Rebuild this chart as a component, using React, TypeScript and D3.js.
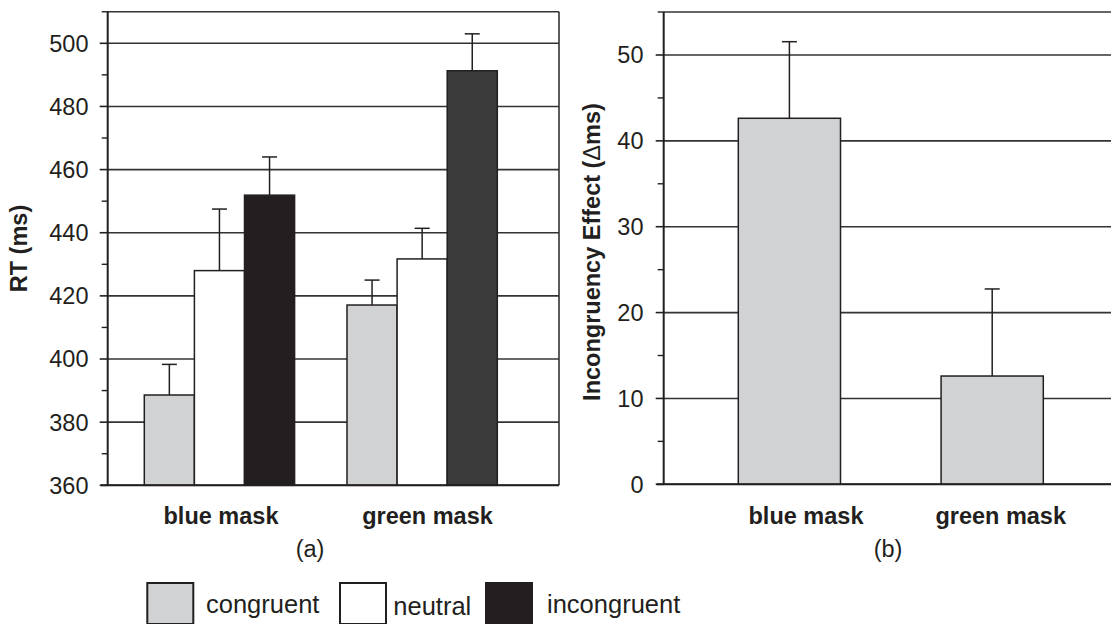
import React from "react";
import * as d3 from "d3";

// Panel (a): mean RT per mask and condition, with upper error bars
const groups = ["blue mask", "green mask"];
const conditions = ["congruent", "neutral", "incongruent"];
const rtMeans = [
  [388.6, 428.0, 451.9],
  [417.1, 431.7, 491.3],
];
const rtErrTops = [
  [398.3, 447.5, 464.0],
  [425.0, 441.4, 503.0],
];
const rtTicks = [360, 380, 400, 420, 440, 460, 480, 500];
const rtMinorTicks = [370, 390, 410, 430, 450, 470, 490];

// Panel (b): incongruency effect per mask
const effectValues = [42.63, 12.61];
const effectErrTops = [51.55, 22.75];
const effectTicks = [0, 10, 20, 30, 40, 50];
const effectMinorTicks = [5, 15, 25, 35, 45];

const fillFor = (gi: number, ci: number) => {
  if (ci === 0) return "#d1d2d4";
  if (ci === 1) return "#ffffff";
  return gi === 0 ? "#231f20" : "#3b3b3b";
};

const INK = "#231f20";
const FONT = "'Liberation Sans', Arial, Helvetica, sans-serif";

export default function App() {
  // ---- panel (a) scales
  const yA = d3.scaleLinear().domain([360, 500]).range([485.3, 43.3]);
  const xA = d3.scaleBand<string>().domain(groups).range([144.3, 497.3]).paddingInner(0.2585).paddingOuter(0);
  const xAInner = d3.scaleBand<string>().domain(conditions).range([0, xA.bandwidth()]).padding(0);
  const labelA = d3.scalePoint<string>().domain(groups).range([221, 427.5]);
  const axAx = 107.7;
  const axARight = 559;
  const topA = yA(510);

  // ---- panel (b) scales
  const yB = d3.scaleLinear().domain([0, 50]).range([484.3, 55]);
  const xB = d3.scaleBand<string>().domain(groups).range([738.3, 1043.3]).paddingInner(0.496).paddingOuter(0);
  const labelB = d3.scalePoint<string>().domain(groups).range([806, 1000.7]);
  const axBx = 663.7;
  const axBRight = 1111;
  const topB = yB(55);

  const cap = 7.5;
  const tickLen = 7;

  return (
    <svg width={1111} height={624} style={{ display: "block", position: "absolute", left: 0, top: 0 }} fontFamily={FONT}>
      <rect x={0} y={0} width={1111} height={624} fill="#fff" />

      {/* ===== Panel (a) ===== */}
      <g>
        {/* gridlines */}
        {rtTicks.map((t) => (
          <line key={"ga" + t} x1={axAx} x2={axARight} y1={yA(t)} y2={yA(t)} stroke="#333" strokeWidth={1.6} />
        ))}
        {/* top and right border */}
        <line x1={axAx - tickLen + 1} x2={axARight} y1={topA} y2={topA} stroke="#333" strokeWidth={1.6} />
        <line x1={axARight} x2={axARight} y1={topA} y2={yA(360)} stroke="#333" strokeWidth={1.6} />
        {/* bars */}
        {groups.map((g, gi) =>
          conditions.map((c, ci) => {
            const x = (xA(g) as number) + (xAInner(c) as number);
            const w = xAInner.bandwidth();
            const cx = x + w / 2;
            return (
              <g key={g + c}>
                <line x1={cx} x2={cx} y1={yA(rtMeans[gi][ci])} y2={yA(rtErrTops[gi][ci])} stroke={INK} strokeWidth={1.5} />
                <line x1={cx - cap} x2={cx + cap} y1={yA(rtErrTops[gi][ci])} y2={yA(rtErrTops[gi][ci])} stroke={INK} strokeWidth={1.5} />
                <rect x={x} y={yA(rtMeans[gi][ci])} width={w} height={yA(360) - yA(rtMeans[gi][ci])} fill={fillFor(gi, ci)} stroke={INK} strokeWidth={1.5} />
              </g>
            );
          })
        )}
        {/* axes */}
        <line x1={axAx} x2={axAx} y1={topA} y2={yA(360)} stroke={INK} strokeWidth={2} />
        <line x1={axAx - tickLen} x2={axARight} y1={yA(360)} y2={yA(360)} stroke={INK} strokeWidth={2} />
        {rtTicks.map((t) => (
          <g key={"ta" + t}>
            <line x1={axAx - tickLen - 1} x2={axAx} y1={yA(t)} y2={yA(t)} stroke={INK} strokeWidth={1.6} />
            <text x={88.5} y={yA(t)} dy="0.36em" textAnchor="end" fontSize={23.5} fill={INK}>
              {t}
            </text>
          </g>
        ))}
        {rtMinorTicks.map((t) => (
          <line key={"ma" + t} x1={axAx - tickLen + 1} x2={axAx} y1={yA(t)} y2={yA(t)} stroke={INK} strokeWidth={1.4} />
        ))}
        {groups.map((g) => (
          <text key={"la" + g} x={labelA(g)} y={524} textAnchor="middle" fontSize={23.5} fontWeight="bold" fill={INK}>
            {g}
          </text>
        ))}
        <text transform={`translate(27,248.5) rotate(-90)`} textAnchor="middle" fontSize={23.5} fontWeight="bold" fill={INK}>
          RT (ms)
        </text>
        <text x={310} y={557} textAnchor="middle" fontSize={23.5} fill={INK}>
          (a)
        </text>
      </g>

      {/* ===== Panel (b) ===== */}
      <g>
        {effectTicks.map((t) => (
          <line key={"gb" + t} x1={axBx} x2={axBRight} y1={yB(t)} y2={yB(t)} stroke="#333" strokeWidth={1.6} />
        ))}
        <line x1={axBx - tickLen + 1} x2={axBRight} y1={topB} y2={topB} stroke="#333" strokeWidth={1.6} />
        {groups.map((g, gi) => {
          const x = xB(g) as number;
          const w = xB.bandwidth();
          const cx = x + w / 2;
          return (
            <g key={"bb" + g}>
              <line x1={cx} x2={cx} y1={yB(effectValues[gi])} y2={yB(effectErrTops[gi])} stroke={INK} strokeWidth={1.5} />
              <line x1={cx - cap} x2={cx + cap} y1={yB(effectErrTops[gi])} y2={yB(effectErrTops[gi])} stroke={INK} strokeWidth={1.5} />
              <rect x={x} y={yB(effectValues[gi])} width={w} height={yB(0) - yB(effectValues[gi])} fill="#d1d2d4" stroke={INK} strokeWidth={1.5} />
            </g>
          );
        })}
        <line x1={axBx} x2={axBx} y1={topB} y2={yB(0)} stroke={INK} strokeWidth={2} />
        <line x1={axBx - tickLen} x2={axBRight} y1={yB(0)} y2={yB(0)} stroke={INK} strokeWidth={2} />
        {effectTicks.map((t) => (
          <g key={"tb" + t}>
            <line x1={axBx - tickLen - 1} x2={axBx} y1={yB(t)} y2={yB(t)} stroke={INK} strokeWidth={1.6} />
            <text x={643.5} y={yB(t)} dy="0.36em" textAnchor="end" fontSize={23.5} fill={INK}>
              {t}
            </text>
          </g>
        ))}
        {effectMinorTicks.map((t) => (
          <line key={"mb" + t} x1={axBx - tickLen + 1} x2={axBx} y1={yB(t)} y2={yB(t)} stroke={INK} strokeWidth={1.4} />
        ))}
        {groups.map((g) => (
          <text key={"lb" + g} x={labelB(g)} y={524} textAnchor="middle" fontSize={23.5} fontWeight="bold" fill={INK}>
            {g}
          </text>
        ))}
        <text transform={`translate(600,252) rotate(-90)`} textAnchor="middle" fontSize={23.5} fontWeight="bold" fill={INK}>
          Incongruency Effect (<tspan fontWeight="normal">Δ</tspan>ms)
        </text>
        <text x={888} y={557} textAnchor="middle" fontSize={23.5} fill={INK}>
          (b)
        </text>
      </g>

      {/* ===== Legend ===== */}
      <g>
        {conditions.map((c, ci) => {
          const swatchX = [147.3, 340, 486][ci];
          const textX = [206, 393.3, 547][ci];
          const baseY = [613.3, 614.5, 612.7][ci];
          return (
            <g key={"lg" + c}>
              <rect x={swatchX} y={583} width={46} height={41} fill={fillFor(0, ci)} stroke={INK} strokeWidth={2} />
              <text x={textX} y={baseY} fontSize={25.5} fill={INK}>
                {c}
              </text>
            </g>
          );
        })}
      </g>
    </svg>
  );
}
